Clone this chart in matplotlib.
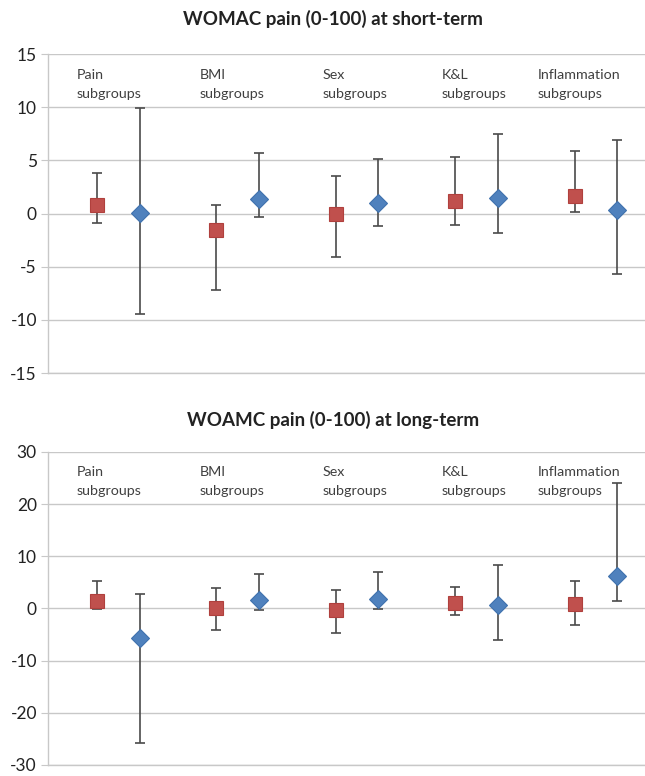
import matplotlib
matplotlib.use("Agg")
import matplotlib.pyplot as plt
import matplotlib.transforms as mtransforms

plt.rcParams["font.family"] = ["Lato", "DejaVu Sans"]
plt.rcParams["axes.unicode_minus"] = False

GROUPS = ["Pain\nsubgroups", "BMI\nsubgroups", "Sex\nsubgroups", "K&L\nsubgroups", "Inflammation\nsubgroups"]

# short-term: red squares / blue diamonds (estimate, lower CI, upper CI)
SHORT_RED = [0.8, -1.55, 0.0, 1.15, 1.65]
SHORT_RED_LO = [-0.85, -7.2, -4.1, -1.1, 0.1]
SHORT_RED_HI = [3.85, 0.8, 3.55, 5.3, 5.85]
SHORT_BLUE = [0.05, 1.35, 1.0, 1.45, 0.35]
SHORT_BLUE_LO = [-9.45, -0.3, -1.2, -1.8, -5.7]
SHORT_BLUE_HI = [9.95, 5.7, 5.1, 7.45, 6.9]

# long-term
LONG_RED = [1.5, 0.15, -0.2, 1.0, 0.8]
LONG_RED_LO = [-0.05, -4.15, -4.7, -1.3, -3.1]
LONG_RED_HI = [5.3, 4.0, 3.5, 4.15, 5.35]
LONG_BLUE = [-5.65, 1.65, 1.8, 0.65, 6.3]
LONG_BLUE_LO = [-25.7, -0.3, -0.05, -6.0, 1.5]
LONG_BLUE_HI = [2.85, 6.6, 7.0, 8.4, 24.1]

RED, BLUE, BAR, GRID, TXT = "#C0504D", "#4F81BD", "#4A4A4A", "#C8C8C8", "#404040"
RED_X = [1.15 + 2.8 * i for i in range(len(GROUPS))]
BLUE_X = [x + 1.0 for x in RED_X]
LABEL_X = [0.68, 3.56, 6.45, 9.24, 11.49]

fig = plt.figure(figsize=(6.45, 7.76), dpi=100)
ax1 = fig.add_axes([0.0744, 0.5193, 0.9256, 0.411])
ax2 = fig.add_axes([0.0744, 0.0142, 0.9256, 0.4034])


def panel(ax, red, rlo, rhi, blue, blo, bhi, ylim, step, title, title_y):
    ax.errorbar(RED_X, red, yerr=[[m - l for m, l in zip(red, rlo)], [h - m for m, h in zip(red, rhi)]],
                fmt="none", ecolor=BAR, elinewidth=1.2, capsize=3.5, capthick=1.2, zorder=2)
    ax.errorbar(BLUE_X, blue, yerr=[[m - l for m, l in zip(blue, blo)], [h - m for m, h in zip(blue, bhi)]],
                fmt="none", ecolor=BAR, elinewidth=1.2, capsize=3.5, capthick=1.2, zorder=2)
    ax.plot(RED_X, red, "s", ms=10, color=RED, mec="#B0403D", mew=0.8, zorder=3)
    ax.plot(BLUE_X, blue, "D", ms=9, color=BLUE, mec="#3F71AD", mew=0.8, zorder=3)
    ax.set_xlim(0, 14)
    ax.set_ylim(*ylim)
    ax.set_yticks(range(ylim[0], ylim[1] + 1, step))
    ax.set_xticks([])
    ax.yaxis.grid(True, color=GRID, lw=1.0)
    ax.set_axisbelow(True)
    for s in ("top", "right"):
        ax.spines[s].set_visible(False)
    for s in ("left", "bottom"):
        ax.spines[s].set_color(GRID)
        ax.spines[s].set_linewidth(1.0)
    ax.tick_params(axis="y", length=5, color=GRID, labelsize=12.5, labelcolor="#222222", pad=3)
    trans = mtransforms.blended_transform_factory(ax.transData, ax.transAxes)
    for x, lab in zip(LABEL_X, GROUPS):
        ax.text(x, 0.905, lab, transform=trans, ha="left", va="center", fontsize=10.3,
                color=TXT, linespacing=1.75)
    fig.text(0.516, title_y, title, ha="center", va="center", fontsize=13.5, fontweight="bold", color="#222222")


panel(ax1, SHORT_RED, SHORT_RED_LO, SHORT_RED_HI, SHORT_BLUE, SHORT_BLUE_LO, SHORT_BLUE_HI,
      (-15, 15), 5, "WOMAC pain (0-100) at short-term", 1 - 19 / 776)
panel(ax2, LONG_RED, LONG_RED_LO, LONG_RED_HI, LONG_BLUE, LONG_BLUE_LO, LONG_BLUE_HI,
      (-30, 30), 10, "WOAMC pain (0-100) at long-term", 1 - 420 / 776)

fig.savefig("out.png", dpi=100)
